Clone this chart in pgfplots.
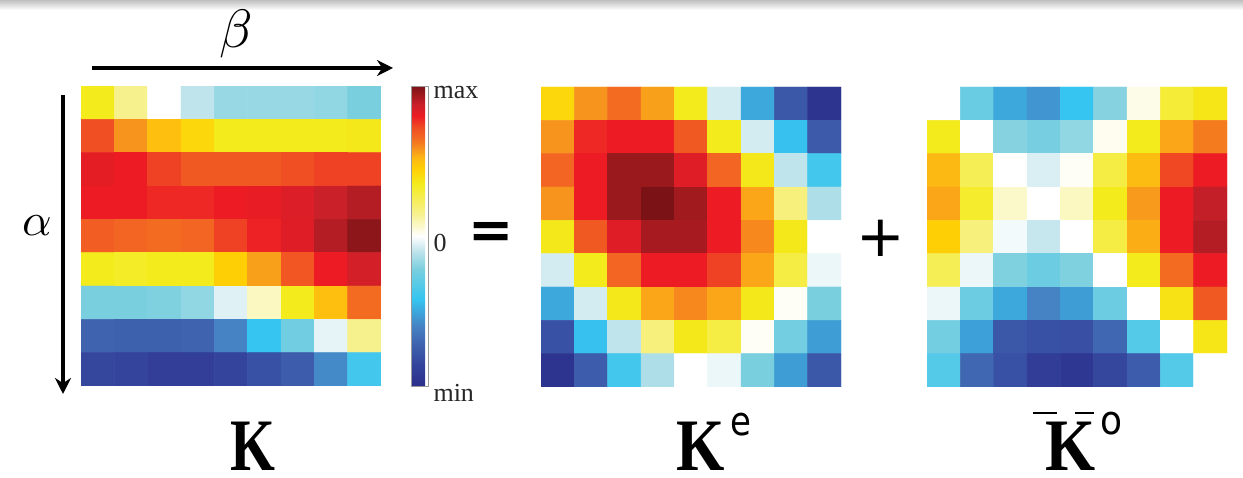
\documentclass[border=0pt]{standalone}
\usepackage{pgfplots}
\pgfplotsset{compat=1.18}
\usepackage{graphicx}
\usepackage{fontspec}
\setmainfont{Liberation Serif}
\newfontfamily\djv{DejaVu Sans}
\usetikzlibrary{arrows.meta}
\pgfplotsset{
  colormap={kmap}{
    rgb255(0pt)=(43,47,140); rgb255(15pt)=(53,70,157); rgb255(28pt)=(63,99,175);
    rgb255(40pt)=(70,131,196); rgb255(58pt)=(53,197,240); rgb255(78pt)=(122,207,223);
    rgb255(90pt)=(192,228,236); rgb255(100pt)=(255,255,255); rgb255(115pt)=(247,241,141);
    rgb255(135pt)=(244,235,28); rgb255(145pt)=(255,207,5); rgb255(152pt)=(253,185,19);
    rgb255(158pt)=(247,148,29); rgb255(166pt)=(242,101,34); rgb255(172pt)=(240,78,35);
    rgb255(180pt)=(237,28,36); rgb255(188pt)=(201,32,42); rgb255(194pt)=(160,26,30);
    rgb255(200pt)=(123,19,22)},
  kmat/.style={scale only axis, width=300pt, height=300pt, hide axis,
    xmin=-0.5, xmax=8.5, ymin=-0.5, ymax=8.5, y dir=reverse,
    colormap name=kmap, point meta min=-1, point meta max=1, anchor=south west},
}
\begin{document}
\begin{tikzpicture}[x=1pt,y=1pt]
\useasboundingbox (0,0) rectangle (1243,478);
\shade[top color=black!25, bottom color=white] (0,468) rectangle (1243,478);
% K
\begin{axis}[kmat, at={(81pt,92pt)},
  colorbar, colorbar style={at={(1.1,0)}, anchor=south west, scale only axis,
    width=17pt, height=300pt, ytick={-1,0,1}, yticklabels={min,0,max},
    yticklabel pos=right, ytick style={draw=none}, axis line style={black!40},
    yticklabel style={font=\fontsize{26}{28}\selectfont, text=black!85, yshift=-7pt, xshift=2pt}}]
\addplot[matrix plot*, mesh/cols=9, point meta=explicit] coordinates {
(0,0)[0.35] (1,0)[0.15] (2,0)[0] (3,0)[-0.1] (4,0)[-0.17] (5,0)[-0.17] (6,0)[-0.17] (7,0)[-0.18] (8,0)[-0.22]
(0,1)[0.72] (1,1)[0.58] (2,1)[0.5] (3,1)[0.42] (4,1)[0.35] (5,1)[0.35] (6,1)[0.35] (7,1)[0.35] (8,1)[0.36]
(0,2)[0.82] (1,2)[0.8] (2,2)[0.74] (3,2)[0.69] (4,2)[0.69] (5,2)[0.69] (6,2)[0.72] (7,2)[0.74] (8,2)[0.74]
(0,3)[0.8] (1,3)[0.8] (2,3)[0.78] (3,3)[0.78] (4,3)[0.8] (5,3)[0.81] (6,3)[0.84] (7,3)[0.88] (8,3)[0.91]
(0,4)[0.68] (1,4)[0.66] (2,4)[0.65] (3,4)[0.66] (4,4)[0.74] (5,4)[0.79] (6,4)[0.83] (7,4)[0.91] (8,4)[0.97]
(0,5)[0.35] (1,5)[0.33] (2,5)[0.35] (3,5)[0.35] (4,5)[0.45] (5,5)[0.56] (6,5)[0.7] (7,5)[0.8] (8,5)[0.86]
(0,6)[-0.22] (1,6)[-0.22] (2,6)[-0.21] (3,6)[-0.18] (4,6)[-0.05] (5,6)[0.08] (6,6)[0.35] (7,6)[0.5] (8,6)[0.65]
(0,7)[-0.72] (1,7)[-0.73] (2,7)[-0.73] (3,7)[-0.72] (4,7)[-0.6] (5,7)[-0.42] (6,7)[-0.25] (7,7)[-0.04] (8,7)[0.15]
(0,8)[-0.85] (1,8)[-0.86] (2,8)[-0.9] (3,8)[-0.9] (4,8)[-0.87] (5,8)[-0.8] (6,8)[-0.75] (7,8)[-0.58] (8,8)[-0.38]
};
\end{axis}
% Ke
\begin{axis}[kmat, at={(541pt,91pt)}]
\addplot[matrix plot*, mesh/cols=9, point meta=explicit] coordinates {
(0,0)[0.42] (1,0)[0.58] (2,0)[0.65] (3,0)[0.56] (4,0)[0.35] (5,0)[-0.07] (6,0)[-0.5] (7,0)[-0.77] (8,0)[-0.97]
(0,1)[0.58] (1,1)[0.78] (2,1)[0.8] (3,1)[0.8] (4,1)[0.69] (5,1)[0.35] (6,1)[-0.07] (7,1)[-0.43] (8,1)[-0.76]
(0,2)[0.66] (1,2)[0.8] (2,2)[0.95] (3,2)[0.95] (4,2)[0.83] (5,2)[0.66] (6,2)[0.36] (7,2)[-0.1] (8,2)[-0.38]
(0,3)[0.58] (1,3)[0.8] (2,3)[0.95] (3,3)[1.0] (4,3)[0.94] (5,3)[0.8] (6,3)[0.55] (7,3)[0.18] (8,3)[-0.13]
(0,4)[0.36] (1,4)[0.69] (2,4)[0.83] (3,4)[0.93] (4,4)[0.93] (5,4)[0.8] (6,4)[0.6] (7,4)[0.36] (8,4)[0]
(0,5)[-0.07] (1,5)[0.35] (2,5)[0.66] (3,5)[0.8] (4,5)[0.8] (5,5)[0.74] (6,5)[0.55] (7,5)[0.28] (8,5)[-0.03]
(0,6)[-0.5] (1,6)[-0.07] (2,6)[0.36] (3,6)[0.55] (4,6)[0.6] (5,6)[0.55] (6,6)[0.36] (7,6)[0.01] (8,6)[-0.22]
(0,7)[-0.8] (1,7)[-0.43] (2,7)[-0.1] (3,7)[0.18] (4,7)[0.36] (5,7)[0.28] (6,7)[0.01] (7,7)[-0.24] (8,7)[-0.53]
(0,8)[-0.97] (1,8)[-0.75] (2,8)[-0.38] (3,8)[-0.13] (4,8)[0] (5,8)[-0.03] (6,8)[-0.22] (7,8)[-0.53] (8,8)[-0.77]
};
\end{axis}
% Ko
\begin{axis}[kmat, at={(927pt,91pt)}]
\addplot[matrix plot*, mesh/cols=9, point meta=explicit] coordinates {
(0,0)[0] (1,0)[-0.27] (2,0)[-0.5] (3,0)[-0.55] (4,0)[-0.42] (5,0)[-0.2] (6,0)[0.03] (7,0)[0.3] (8,0)[0.37]
(0,1)[0.35] (1,1)[0] (2,1)[-0.2] (3,1)[-0.23] (4,1)[-0.18] (5,1)[0.02] (6,1)[0.35] (7,1)[0.55] (8,1)[0.62]
(0,2)[0.52] (1,2)[0.25] (2,2)[0] (3,2)[-0.06] (4,2)[0.01] (5,2)[0.28] (6,2)[0.51] (7,2)[0.73] (8,2)[0.8]
(0,3)[0.55] (1,3)[0.32] (2,3)[0.07] (3,3)[0] (4,3)[0.08] (5,3)[0.35] (6,3)[0.57] (7,3)[0.8] (8,3)[0.89]
(0,4)[0.45] (1,4)[0.18] (2,4)[-0.02] (3,4)[-0.09] (4,4)[0] (5,4)[0.28] (6,4)[0.54] (7,4)[0.8] (8,4)[0.91]
(0,5)[0.25] (1,5)[-0.03] (2,5)[-0.21] (3,5)[-0.26] (4,5)[-0.21] (5,5)[0] (6,5)[0.35] (7,5)[0.65] (8,5)[0.8]
(0,6)[-0.03] (1,6)[-0.26] (2,6)[-0.5] (3,6)[-0.6] (4,6)[-0.53] (5,6)[-0.26] (6,6)[0] (7,6)[0.38] (8,6)[0.69]
(0,7)[-0.24] (1,7)[-0.52] (2,7)[-0.77] (3,7)[-0.8] (4,7)[-0.81] (5,7)[-0.7] (6,7)[-0.33] (7,7)[0] (8,7)[0.37]
(0,8)[-0.33] (1,8)[-0.7] (2,8)[-0.8] (3,8)[-0.91] (4,8)[-0.95] (5,8)[-0.85] (6,8)[-0.75] (7,8)[-0.33] (8,8)[0]
};
\end{axis}
% arrows and symbols
\draw[line width=4pt, -{Stealth[length=16pt,width=16pt]}] (92,410) -- (393,410);
\draw[line width=4pt, -{Stealth[length=16pt,width=16pt]}] (63,383) -- (63,84);
\node at (236,444) {\scalebox{5.4}{$\beta$}};
\node at (37,252) {\scalebox{4.6}{$\alpha$}};
\node at (491,243) {\djv\bfseries\fontsize{54}{54}\selectfont =};
\node at (881,240) {\djv\fontsize{58}{58}\selectfont +};
% matrix names
\node[anchor=base west, inner sep=0pt] at (230,7) {\scalebox{0.78}[1]{\bfseries\fontsize{74}{74}\selectfont K}};
\node[anchor=base west, inner sep=0pt] at (676,7) {\scalebox{0.84}[1]{\bfseries\fontsize{74}{74}\selectfont K}};
\node[anchor=base west, inner sep=0pt] at (730,42) {\scalebox{0.85}[1]{\djv\fontsize{40}{40}\selectfont e}};
\node[anchor=base west, inner sep=0pt] at (1045,7) {\scalebox{0.87}[1]{\bfseries\fontsize{74}{74}\selectfont K}};
\node[anchor=base west, inner sep=0pt] at (1100,43) {\scalebox{0.9}[1]{\djv\fontsize{40}{40}\selectfont o}};
\draw[line width=1.5pt] (1033,65) -- (1057,65);
\draw[line width=1.5pt] (1075,65) -- (1094,65);
\end{tikzpicture}
\end{document}
